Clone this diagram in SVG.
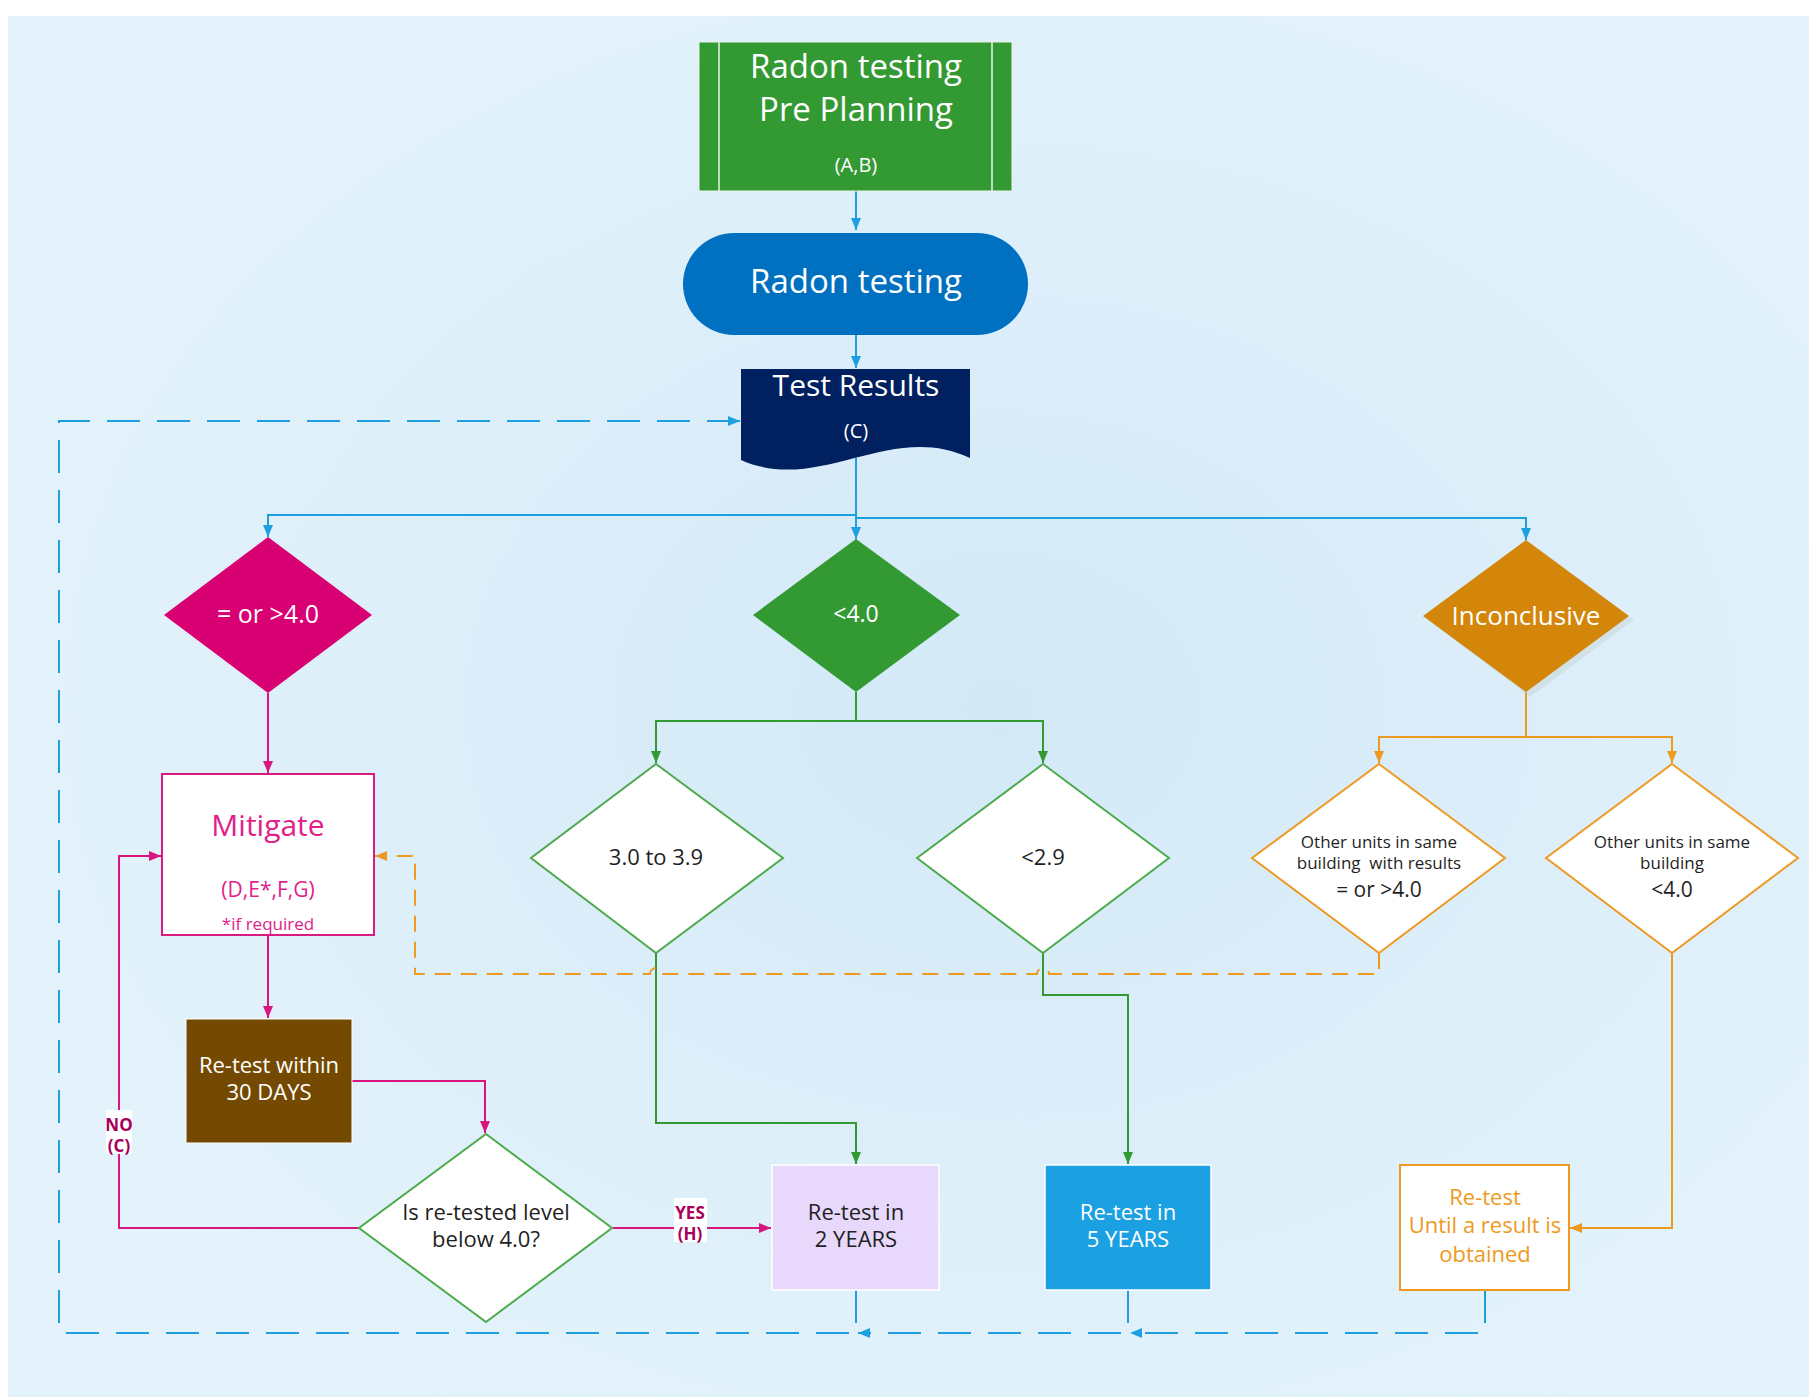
<svg xmlns="http://www.w3.org/2000/svg" width="1809" height="1397" viewBox="0 0 1809 1397">
<defs>
<radialGradient id="bg" cx="0.55" cy="0.5" r="0.6">
<stop offset="0" stop-color="#D3E9F7"/>
<stop offset="1" stop-color="#E4F3FB"/>
</radialGradient>
<marker id="aBlue" markerUnits="userSpaceOnUse" markerWidth="12" markerHeight="10" refX="12" refY="5" orient="auto"><path d="M0,0 L12,5 L0,10 z" fill="#1E9FE0"/></marker>
<marker id="aPink" markerUnits="userSpaceOnUse" markerWidth="12" markerHeight="10" refX="12" refY="5" orient="auto"><path d="M0,0 L12,5 L0,10 z" fill="#D9157E"/></marker>
<marker id="aGreen" markerUnits="userSpaceOnUse" markerWidth="12" markerHeight="10" refX="12" refY="5" orient="auto"><path d="M0,0 L12,5 L0,10 z" fill="#339933"/></marker>
<marker id="aOrange" markerUnits="userSpaceOnUse" markerWidth="12" markerHeight="10" refX="12" refY="5" orient="auto"><path d="M0,0 L12,5 L0,10 z" fill="#EE9A22"/></marker>
<style>
text{font-family:"Open Sans","Noto Sans","Liberation Sans",sans-serif;text-anchor:middle}
.w{fill:#ffffff}
.d{fill:#1f1f1f}
.cb{fill:none;stroke:#1E9FE0;stroke-width:2}
.cp{fill:none;stroke:#D9157E;stroke-width:2}
.cg{fill:none;stroke:#339933;stroke-width:2}
.co{fill:none;stroke:#EE9A22;stroke-width:2}
.dash{stroke-dasharray:33 17}
.odash{stroke-dasharray:16 10}
.lbl{font-weight:bold;font-size:17px;fill:#A8005A}
</style>
</defs>
<rect x="0" y="0" width="1809" height="1397" fill="#ffffff"/>
<rect x="8" y="16" width="1801" height="1381" fill="url(#bg)"/>

<g id="connectors">
<path class="cb" d="M856,191 V230" marker-end="url(#aBlue)"/>
<path class="cb" d="M856,335 V368" marker-end="url(#aBlue)"/>
<path class="cb" d="M856,458 V515 H268 V537" marker-end="url(#aBlue)"/>
<path class="cb" d="M856,458 V539" marker-end="url(#aBlue)"/>
<path class="cb" d="M856,458 V518 H1526 V540" marker-end="url(#aBlue)"/>
<path class="cp" d="M268,693 V773" marker-end="url(#aPink)"/>
<path class="cp" d="M268,935 V1018" marker-end="url(#aPink)"/>
<path class="cp" d="M352,1081 H485 V1133" marker-end="url(#aPink)"/>
<path class="cp" d="M359,1228 H119 V856 H161" marker-end="url(#aPink)"/>
<path class="cp" d="M613,1228 H771" marker-end="url(#aPink)"/>
<path class="cg" d="M856,692 V721 H656 V763" marker-end="url(#aGreen)"/>
<path class="cg" d="M856,721 H1043 V763" marker-end="url(#aGreen)"/>
<path class="cg" d="M656,953 V1123 H856 V1164" marker-end="url(#aGreen)"/>
<path class="cg" d="M1043,953 V995 H1128 V1164" marker-end="url(#aGreen)"/>
<path class="co" d="M1526,692 V737 H1379 V763" marker-end="url(#aOrange)"/>
<path class="co" d="M1526,737 H1672 V763" marker-end="url(#aOrange)"/>
<path class="co" d="M1672,953 V1228 H1570" marker-end="url(#aOrange)"/>
<path class="co odash" d="M1379,953 V974 H1049 A6,6 0 0 0 1037,974 H662 A6,6 0 0 0 650,974 H415 V856 H375" marker-end="url(#aOrange)"/>
<path class="cb dash" d="M856,1290 V1333 H59 V421 H740" marker-end="url(#aBlue)"/>
<path class="cb dash" d="M1128,1290 V1333 H858" marker-end="url(#aBlue)"/>
<path class="cb dash" d="M1485,1290 V1333 H1130" marker-end="url(#aBlue)"/>
<g id="label-no">
<rect x="106" y="1110" width="26" height="44" fill="#ffffff"/>
<text class="lbl" x="119" y="1131">NO</text>
<text class="lbl" x="119" y="1152">(C)</text>
</g>
<g id="label-yes">
<rect x="674" y="1198" width="33" height="44" fill="#ffffff"/>
<text class="lbl" x="690" y="1219">YES</text>
<text class="lbl" x="690" y="1240">(H)</text>
</g>
</g>

<g id="preplanning">
<rect x="699" y="42" width="313" height="149" fill="#339933" stroke="#E8F5E8" stroke-width="1"/>
<line x1="719" y1="42" x2="719" y2="191" stroke="#E8F5E8" stroke-width="1.5"/>
<line x1="992" y1="42" x2="992" y2="191" stroke="#E8F5E8" stroke-width="1.5"/>
<text class="w" x="856" y="78" font-size="33">Radon testing</text>
<text class="w" x="856" y="121" font-size="33">Pre Planning</text>
<text class="w" x="856" y="172" font-size="20">(A,B)</text>
</g>

<g id="radontesting">
<rect x="683" y="233" width="345" height="102" rx="51" ry="51" fill="#0070C0"/>
<text class="w" x="856" y="293" font-size="33">Radon testing</text>
</g>

<g id="testresults">
<path d="M741,369 H970 V458 C890,420 820,495 741,460 Z" fill="#002060"/>
<text class="w" x="856" y="396" font-size="30">Test Results</text>
<text class="w" x="856" y="438" font-size="20">(C)</text>
</g>

<g id="ge40">
<polygon points="268,537 372,615 268,693 164,615" fill="#D80073"/>
<text class="w" x="268" y="623" font-size="25">= or &gt;4.0</text>
</g>

<g id="lt40">
<polygon points="856,539 960,615 856,692 753,615" fill="#339933"/>
<text class="w" x="856" y="622" font-size="23">&lt;4.0</text>
</g>

<g id="inconclusive">
<polygon points="1530,545 1634,620 1530,697 1428,620" fill="#B8C4B8" opacity="0.3"/>
<polygon points="1526,540 1629,616 1526,692 1423,616" fill="#D4860A"/>
<text class="w" x="1526" y="625" font-size="26">Inconclusive</text>
</g>

<g id="mitigate">
<rect x="162" y="774" width="212" height="161" fill="#ffffff" stroke="#DB1A82" stroke-width="2"/>
<text x="268" y="836" font-size="30" fill="#E0218A">Mitigate</text>
<text x="268" y="897" font-size="21" fill="#E0218A">(D,E*,F,G)</text>
<text x="268" y="930" font-size="17" fill="#E0218A">*if required</text>
</g>

<g id="range3039">
<polygon points="656,764 783,858 656,953 531,858" fill="#ffffff" stroke="#4DAA4D" stroke-width="2"/>
<text class="d" x="656" y="865" font-size="22">3.0 to 3.9</text>
</g>

<g id="lt29">
<polygon points="1043,764 1169,858 1043,953 917,858" fill="#ffffff" stroke="#4DAA4D" stroke-width="2"/>
<text class="d" x="1043" y="865" font-size="22">&lt;2.9</text>
</g>

<g id="others-ge40">
<polygon points="1379,764 1505,858 1379,953 1252,858" fill="#ffffff" stroke="#EE9A22" stroke-width="2"/>
<text class="d" x="1379" y="848" font-size="17">Other units in same</text>
<text class="d" x="1379" y="869" font-size="17">building&#160; with results</text>
<text class="d" x="1379" y="897" font-size="21">= or &gt;4.0</text>
</g>

<g id="others-lt40">
<polygon points="1672,764 1798,858 1672,953 1546,858" fill="#ffffff" stroke="#EE9A22" stroke-width="2"/>
<text class="d" x="1672" y="848" font-size="17">Other units in same</text>
<text class="d" x="1672" y="869" font-size="17">building</text>
<text class="d" x="1672" y="897" font-size="21">&lt;4.0</text>
</g>

<g id="retest30">
<rect x="186" y="1019" width="166" height="124" fill="#744A02" stroke="#ffffff" stroke-width="1"/>
<text class="w" x="269" y="1073" font-size="22">Re-test within</text>
<text class="w" x="269" y="1100" font-size="22">30 DAYS</text>
</g>

<g id="isbelow">
<polygon points="486,1134 612,1228 486,1322 359,1228" fill="#ffffff" stroke="#4DAA4D" stroke-width="2"/>
<text class="d" x="486" y="1220" font-size="22">Is re-tested level</text>
<text class="d" x="486" y="1247" font-size="22">below 4.0?</text>
</g>

<g id="retest2">
<rect x="772" y="1165" width="167" height="125" fill="#E7D8FC" stroke="#ffffff" stroke-width="1.5"/>
<text class="d" x="856" y="1220" font-size="22">Re-test in</text>
<text class="d" x="856" y="1247" font-size="22">2 YEARS</text>
</g>

<g id="retest5">
<rect x="1045" y="1165" width="166" height="125" fill="#1BA1E2" stroke="#ffffff" stroke-width="1.5"/>
<text class="w" x="1128" y="1220" font-size="22">Re-test in</text>
<text class="w" x="1128" y="1247" font-size="22">5 YEARS</text>
</g>

<g id="retestuntil">
<rect x="1400" y="1165" width="169" height="125" fill="#ffffff" stroke="#EE9A22" stroke-width="2"/>
<text x="1485" y="1205" font-size="22" fill="#EE9A22">Re-test</text>
<text x="1485" y="1233" font-size="22" fill="#EE9A22">Until a result is</text>
<text x="1485" y="1262" font-size="22" fill="#EE9A22">obtained</text>
</g>
</svg>
